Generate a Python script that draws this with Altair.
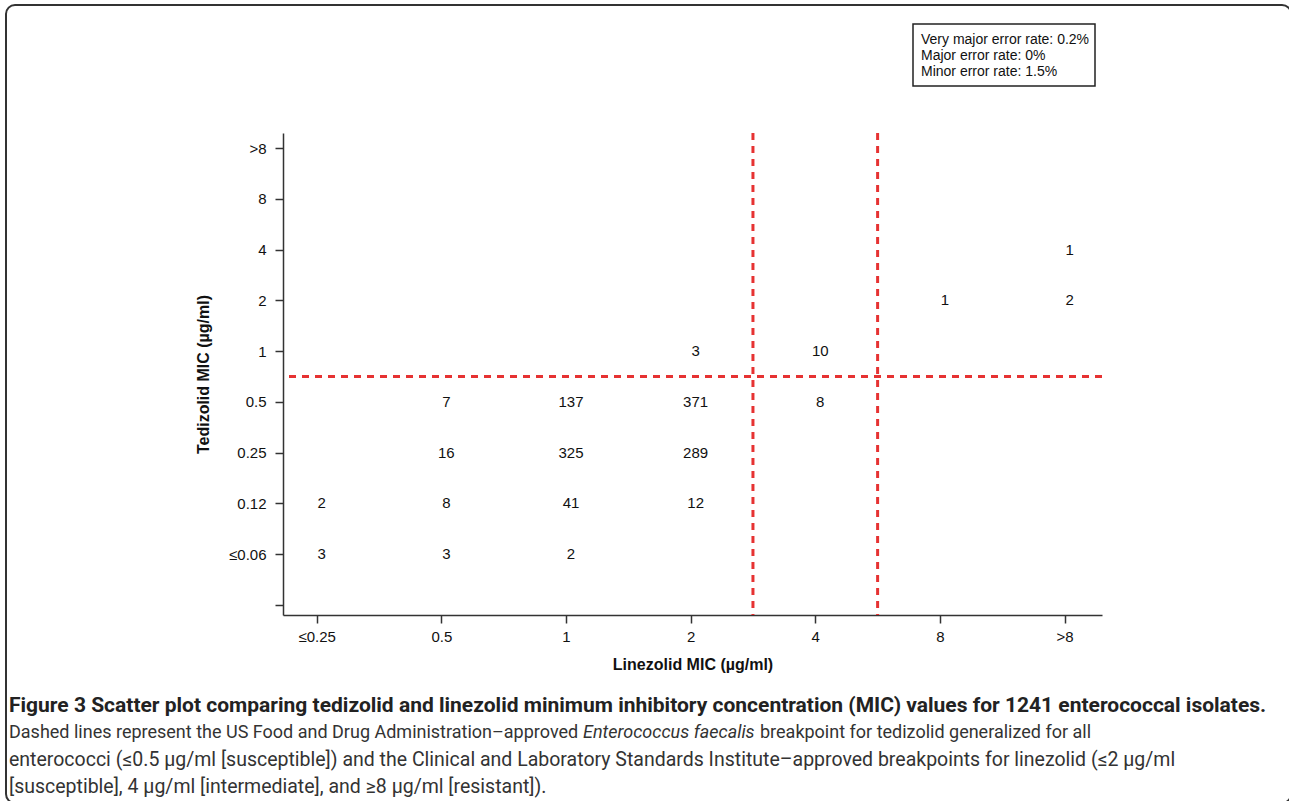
import json
import pandas as pd
import altair as alt

# ---- data ----
linezolid_levels = ["≤0.25", "0.5", "1", "2", "4", "8", ">8"]
tedizolid_levels = ["", "≤0.06", "0.12", "0.25", "0.5", "1", "2", "4", "8", ">8"]

linezolid_mic = ["≤0.25", "0.5", "1",
                 "≤0.25", "0.5", "1", "2",
                 "0.5", "1", "2",
                 "0.5", "1", "2", "4",
                 "2", "4",
                 "8", ">8",
                 ">8"]
tedizolid_mic = ["≤0.06", "≤0.06", "≤0.06",
                 "0.12", "0.12", "0.12", "0.12",
                 "0.25", "0.25", "0.25",
                 "0.5", "0.5", "0.5", "0.5",
                 "1", "1",
                 "2", "2",
                 "4"]
isolates = [3, 3, 2,
            2, 8, 41, 12,
            16, 325, 289,
            7, 137, 371, 8,
            3, 10,
            1, 2,
            1]

tedizolid_breakpoint = [4.5]          # between 0.5 and 1 (index positions)
linezolid_breakpoints = [3.5, 4.5]    # between 2|4 and 4|8

error_lines = ["Very major error rate: 0.2%", "Major error rate: 0%", "Minor error rate: 1.5%"]

caption_title = ("Figure 3 Scatter plot comparing tedizolid and linezolid minimum inhibitory "
                 "concentration (MIC) values for 1241 enterococcal isolates.")
caption_l1a = "Dashed lines represent the US Food and Drug Administration–approved"
caption_l1b = "Enterococcus faecalis"
caption_l1c = "breakpoint for tedizolid generalized for all"
caption_l2 = ("enterococci (≤0.5 µg/ml [susceptible]) and the Clinical and Laboratory Standards "
              "Institute–approved breakpoints for linezolid (≤2 µg/ml")
caption_l3 = "[susceptible], 4 µg/ml [intermediate], and ≥8 µg/ml [resistant])."

# ---- layout ----
W, H = 819, 482
OX, OY = 283, 133
FONT = "Liberation Sans"
CAP_FONT = "Roboto, sans-serif"
RED = "#e63232"

df = pd.DataFrame({
    "lx": [linezolid_levels.index(v) for v in linezolid_mic],
    "ty": [tedizolid_levels.index(v) for v in tedizolid_mic],
    "n": isolates,
})

x_scale = alt.Scale(domain=[-0.27, 6.3], nice=False, zero=False)
y_scale = alt.Scale(domain=[-0.2, 9.3], nice=False, zero=False)

x_axis = alt.Axis(
    values=list(range(len(linezolid_levels))),
    labelExpr=json.dumps(linezolid_levels, ensure_ascii=False) + "[datum.value]",
    title="Linezolid MIC (µg/ml)", grid=False,
    domainColor="#333", domainWidth=1.5, tickColor="#333", tickWidth=1.5, tickSize=8,
    labelFont=FONT, labelFontSize=15, labelColor="#111", labelPadding=6,
    titleFont=FONT, titleFontSize=16, titleFontWeight="bold", titleColor="#111",
    titleBaseline="middle", titleY=49,
)
y_axis = alt.Axis(
    values=list(range(len(tedizolid_levels))),
    labelExpr=json.dumps(tedizolid_levels, ensure_ascii=False) + "[datum.value]",
    title="Tedizolid MIC (µg/ml)", grid=False,
    domainColor="#333", domainWidth=1.5, tickColor="#333", tickWidth=1.5, tickSize=8,
    labelFont=FONT, labelFontSize=15, labelColor="#111", labelPadding=9,
    titleFont=FONT, titleFontSize=16, titleFontWeight="bold", titleColor="#111",
    titleBaseline="middle", titleX=-80, titleY=H / 2,
)

counts = alt.Chart(df).mark_text(font=FONT, fontSize=15, color="#111", dx=5).encode(
    x=alt.X("lx:Q", scale=x_scale, axis=x_axis),
    y=alt.Y("ty:Q", scale=y_scale, axis=y_axis),
    text="n:Q",
)

hline = alt.Chart(pd.DataFrame({"ty": tedizolid_breakpoint})).mark_rule(
    color=RED, strokeWidth=3, strokeDash=[7, 6]
).encode(y=alt.Y("ty:Q", scale=y_scale, axis=y_axis))

vlines = alt.Chart(pd.DataFrame({"lx": linezolid_breakpoints})).mark_rule(
    color=RED, strokeWidth=3, strokeDash=[7, 6]
).encode(x=alt.X("lx:Q", scale=x_scale, axis=x_axis))

one = pd.DataFrame({"a": [0]})

box = alt.Chart(one).mark_rect(fill="white", stroke="#222", strokeWidth=1.5).encode(
    x=alt.value(913 - OX), x2=alt.value(1095 - OX),
    y=alt.value(24 - OY), y2=alt.value(86 - OY),
)


def txt(text, x, y, font=FONT, size=14, weight="normal", style="normal", color="#111"):
    return alt.Chart(one).mark_text(
        text=text, font=font, fontSize=size, fontWeight=weight, fontStyle=style,
        align="left", baseline="middle", color=color,
    ).encode(x=alt.value(x - OX), y=alt.value(y - OY))


box_text = [txt(t, 921, yy, size=14) for t, yy in zip(error_lines, [40, 56, 72])]

frame = alt.Chart(one).mark_rect(
    fill="white", fillOpacity=0, stroke="#333", strokeWidth=2, cornerRadius=9
).encode(
    x=alt.value(6 - OX), x2=alt.value(1291 - OX),
    y=alt.value(5 - OY), y2=alt.value(803 - OY),
)

captions = [
    txt(caption_title, 9, 706, font=CAP_FONT, size=21, weight="bold", color="#222"),
    txt(caption_l1a, 9, 733, font=CAP_FONT, size=18, color="#333"),
    txt(caption_l1b, 583, 733, font=CAP_FONT, size=18, style="italic", color="#333"),
    txt(caption_l1c, 760, 733, font=CAP_FONT, size=18, color="#333"),
    txt(caption_l2, 9, 760, font=CAP_FONT, size=19.5, color="#333"),
    txt(caption_l3, 9, 787, font=CAP_FONT, size=19.5, color="#333"),
]

chart = alt.layer(
    frame, hline, vlines, counts, box, *box_text, *captions
).properties(
    width=W, height=H,
    autosize=alt.AutoSizeParams(type="none"),
    padding={"left": OX, "top": OY, "right": 1289 - OX - W, "bottom": 801 - OY - H},
    background="white",
).configure_view(stroke=None)

chart.save("out.html", embed_options={"renderer": "svg", "actions": False})
